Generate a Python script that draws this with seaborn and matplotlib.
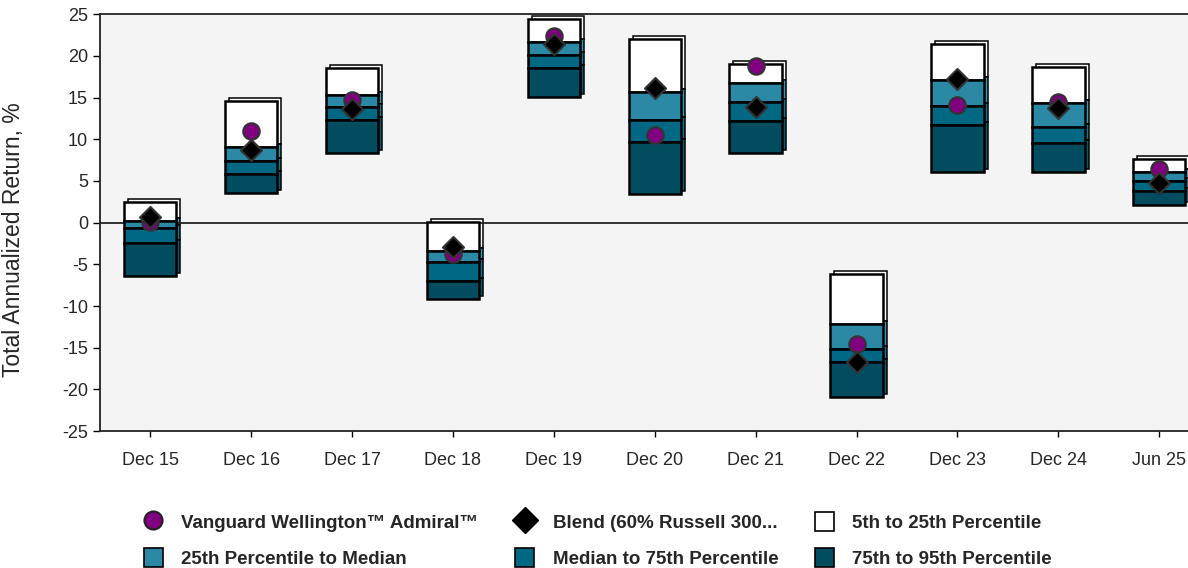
import numpy as np
import pandas as pd
import matplotlib
matplotlib.use("Agg")
import matplotlib.pyplot as plt
import seaborn as sns
from matplotlib.transforms import ScaledTranslation
from matplotlib.lines import Line2D
from matplotlib.patches import Patch

periods = ["Dec 15", "Dec 16", "Dec 17", "Dec 18", "Dec 19", "Dec 20",
           "Dec 21", "Dec 22", "Dec 23", "Dec 24", "Jun 25"]
p5 = [2.5, 14.6, 18.6, 0.1, 24.4, 22.0, 19.0, -6.2, 21.4, 18.7, 7.6]
p25 = [0.2, 9.1, 15.3, -3.4, 21.7, 15.7, 16.7, -12.1, 17.1, 14.3, 6.1]
median = [-0.7, 7.4, 13.9, -4.7, 20.1, 12.3, 14.5, -15.2, 14.0, 11.5, 5.0]
p75 = [-2.4, 5.8, 12.3, -7.0, 18.5, 9.7, 12.2, -16.7, 11.7, 9.5, 3.8]
p95 = [-6.4, 3.5, 8.4, -9.2, 15.1, 3.4, 8.4, -20.9, 6.1, 6.1, 2.1]
fund = [0.1, 11.0, 14.7, -3.7, 22.4, 10.5, 18.8, -14.5, 14.1, 14.5, 6.4]
blend = [0.7, 8.7, 13.6, -2.9, 21.4, 16.1, 13.9, -16.7, 17.2, 13.8, 4.8]

fund_name = "Vanguard Wellington\u2122 Admiral\u2122"
blend_name = "Blend (60% Russell 300..."
band_names = ["5th to 25th Percentile", "25th Percentile to Median",
              "Median to 75th Percentile", "75th to 95th Percentile"]
band_colors = ["#ffffff", "#2b89a5", "#006882", "#024c60"]
side_colors = ["#ffffff", "#3a9ab5", "#0d7893", "#0a5b70"]

sns.set_theme(style="white")
plt.rcParams["font.family"] = ["Liberation Sans Narrow", "Liberation Sans", "DejaVu Sans"]
plt.rcParams["axes.unicode_minus"] = False

fig = plt.figure(figsize=(11.88, 5.68), dpi=100)
ax = fig.add_axes([0.084, 0.241, 0.93, 0.734])
ax.set_facecolor("#f4f4f4")

x = np.arange(len(periods))
w = 0.52
uppers = [p5, p25, median, p75]
lowers = [p25, median, p75, p95]

back = ax.transData + ScaledTranslation(4 / 100, 3 / 100, fig.dpi_scale_trans)
for i in range(4):
    top = np.array(uppers[i]); bot = np.array(lowers[i])
    ax.bar(x, top - bot, bottom=bot, width=w, color=side_colors[i],
           edgecolor="black", linewidth=1.1, transform=back, zorder=2)
for i in range(4):
    top = np.array(uppers[i]); bot = np.array(lowers[i])
    ax.bar(x, top - bot, bottom=bot, width=w, color=band_colors[i],
           edgecolor="black", linewidth=1.8, zorder=3)

ax.axhline(0, color="#222222", linewidth=1.3, zorder=2.5)

df = pd.DataFrame({"period": x, "fund": fund, "blend": blend})
sns.scatterplot(data=df, x="period", y="fund", ax=ax, marker="o", s=140,
                color="#800080", edgecolor="#333333", linewidth=1.5, zorder=5, legend=False)
sns.scatterplot(data=df, x="period", y="blend", ax=ax, marker="D", s=115,
                color="black", edgecolor="#333333", linewidth=1.5, zorder=6, legend=False)

ax.set_xlim(-0.5, 10.45)
ax.set_ylim(-25, 25)
ax.set_yticks(np.arange(-25, 26, 5))
ax.set_xticks(x)
ax.set_xticklabels(periods, fontsize=13)
ax.tick_params(axis="y", labelsize=13, left=True, length=5, width=1, color="black")
ax.tick_params(axis="x", bottom=True, length=4, width=1, color="black", pad=11)
ax.set_xlabel("")
ax.set_ylabel("Total Annualized Return, %", fontsize=16.5, family=["Liberation Sans", "DejaVu Sans"])
ax.yaxis.set_label_coords(-0.068, 0.46)
for s in ["left", "top", "bottom"]:
    ax.spines[s].set_color("#222222")
    ax.spines[s].set_linewidth(1.3)
ax.spines["right"].set_visible(False)

h_fund = Line2D([], [], marker="o", linestyle="none", markersize=13,
                markerfacecolor="#800080", markeredgecolor="#222222", markeredgewidth=1.5)
h_blend = Line2D([], [], marker="D", linestyle="none", markersize=13,
                 markerfacecolor="black", markeredgecolor="black")
h_bands = [Patch(facecolor=c, edgecolor="black", linewidth=1.2) for c in band_colors]
handles = [h_fund, h_bands[1], h_blend, h_bands[2], h_bands[0], h_bands[3]]
labels = [fund_name, band_names[1], blend_name, band_names[2], band_names[0], band_names[3]]
fig.legend(handles, labels, ncol=3, loc="lower left", bbox_to_anchor=(0.107, -0.03),
           frameon=False, handlelength=1.0, handleheight=1.2,
           columnspacing=1.95, labelspacing=0.87, handletextpad=1.0,
           prop={"weight": "bold", "size": 13.5})

fig.savefig("out.png", dpi=100)
